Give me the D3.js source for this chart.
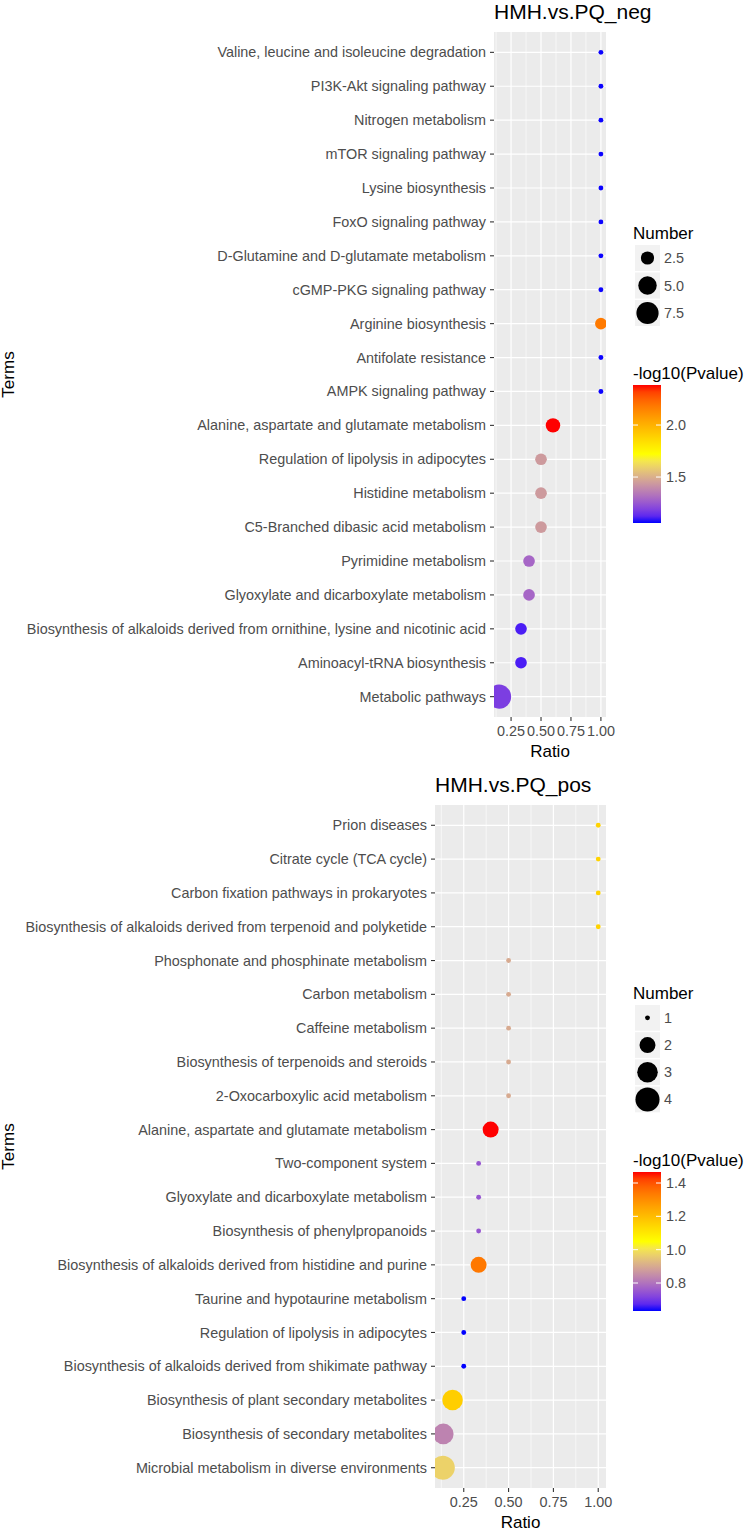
<!DOCTYPE html>
<html>
<head>
<meta charset="utf-8">
<script src="https://cdn.jsdelivr.net/npm/d3@7"></script>
<style>
  html, body { margin: 0; padding: 0; background: #ffffff; }
  svg { display: block; font-family: "Liberation Sans", Arial, Helvetica, sans-serif; }
</style>
</head>
<body>
<svg id="chart" width="750" height="1531"></svg>
<script>
// ---------- DATA ----------
const negTitle = "HMH.vs.PQ_neg";
const negTerms = [
  "Valine, leucine and isoleucine degradation",
  "PI3K-Akt signaling pathway",
  "Nitrogen metabolism",
  "mTOR signaling pathway",
  "Lysine biosynthesis",
  "FoxO signaling pathway",
  "D-Glutamine and D-glutamate metabolism",
  "cGMP-PKG signaling pathway",
  "Arginine biosynthesis",
  "Antifolate resistance",
  "AMPK signaling pathway",
  "Alanine, aspartate and glutamate metabolism",
  "Regulation of lipolysis in adipocytes",
  "Histidine metabolism",
  "C5-Branched dibasic acid metabolism",
  "Pyrimidine metabolism",
  "Glyoxylate and dicarboxylate metabolism",
  "Biosynthesis of alkaloids derived from ornithine, lysine and nicotinic acid",
  "Aminoacyl-tRNA biosynthesis",
  "Metabolic pathways"
];
const negRatio  = [1, 1, 1, 1, 1, 1, 1, 1, 1, 1, 1, 0.6, 0.5, 0.5, 0.5, 0.4, 0.4, 0.333, 0.333, 0.15];
const negNumber = [1, 1, 1, 1, 1, 1, 1, 1, 2, 1, 1, 3, 2, 2, 2, 2, 2, 2, 2, 9];
const negLogP   = [1.06, 1.06, 1.06, 1.06, 1.06, 1.06, 1.06, 1.06, 2.18, 1.06, 1.06, 2.385, 1.44, 1.44, 1.44, 1.29, 1.29, 1.1, 1.1, 1.18];
const negSizeBreaks  = [2.5, 5.0, 7.5];
const negSizeLabels  = ["2.5", "5.0", "7.5"];
const negColorBreaks = [1.5, 2.0];
const negColorLabels = ["1.5", "2.0"];
const negColorLimits = [1.058, 2.385];

const posTitle = "HMH.vs.PQ_pos";
const posTerms = [
  "Prion diseases",
  "Citrate cycle (TCA cycle)",
  "Carbon fixation pathways in prokaryotes",
  "Biosynthesis of alkaloids derived from terpenoid and polyketide",
  "Phosphonate and phosphinate metabolism",
  "Carbon metabolism",
  "Caffeine metabolism",
  "Biosynthesis of terpenoids and steroids",
  "2-Oxocarboxylic acid metabolism",
  "Alanine, aspartate and glutamate metabolism",
  "Two-component system",
  "Glyoxylate and dicarboxylate metabolism",
  "Biosynthesis of phenylpropanoids",
  "Biosynthesis of alkaloids derived from histidine and purine",
  "Taurine and hypotaurine metabolism",
  "Regulation of lipolysis in adipocytes",
  "Biosynthesis of alkaloids derived from shikimate pathway",
  "Biosynthesis of plant secondary metabolites",
  "Biosynthesis of secondary metabolites",
  "Microbial metabolism in diverse environments"
];
const posRatio  = [1, 1, 1, 1, 0.5, 0.5, 0.5, 0.5, 0.5, 0.4, 0.333, 0.333, 0.333, 0.333, 0.25, 0.25, 0.25, 0.1875, 0.136, 0.133];
const posNumber = [1, 1, 1, 1, 1, 1, 1, 1, 1, 2, 1, 1, 1, 2, 1, 1, 1, 3, 3, 4];
const posLogP   = [1.15, 1.15, 1.15, 1.15, 0.9, 0.9, 0.9, 0.9, 0.9, 1.466, 0.75, 0.75, 0.75, 1.34, 0.632, 0.632, 0.632, 1.16, 0.83, 0.97];
const posSizeBreaks  = [1, 2, 3, 4];
const posSizeLabels  = ["1", "2", "3", "4"];
const posColorBreaks = [0.8, 1.0, 1.2, 1.4];
const posColorLabels = ["0.8", "1.0", "1.2", "1.4"];
const posColorLimits = [0.632, 1.466];

const xBreaks = [0.25, 0.5, 0.75, 1.0];
const xLabels = ["0.25", "0.50", "0.75", "1.00"];
const xMinor  = [0.125, 0.375, 0.625, 0.875];

// ---------- DRAW ----------
const svg = d3.select("#chart");
const TEXT_GREY = "#4d4d4d";
const AXIS_FS = 14.4;

function drawPanel(cfg) {
  const { title, terms, ratio, number, logp, sizeBreaks, sizeLabels,
          colorBreaks, colorLabels, colorLimits, box, legend } = cfg;
  const g = svg.append("g");

  // x scale with ggplot-like 5% expansion
  const xmin = d3.min(ratio), xmax = d3.max(ratio);
  const ex = (xmax - xmin) * 0.05;
  const x = d3.scaleLinear().domain([xmin - ex, xmax + ex]).range([box.left, box.right]);
  const y = d3.scalePoint().domain(terms).range([box.top, box.bottom]).padding(0.6);

  // size scale (area)
  const nExt = d3.extent(number);
  const sizeOf = n => 1 + 5 * Math.sqrt((n - nExt[0]) / (nExt[1] - nExt[0]));
  const rad = n => (sizeOf(n) * 3.85 + 1.0) / 2;

  // colour scale
  const cmid = (colorLimits[0] + colorLimits[1]) / 2;
  const color = d3.scaleLinear().domain([colorLimits[0], cmid, colorLimits[1]])
    .range(["#0000ff", "#ffff00", "#ff0000"]).interpolate(d3.interpolateLab).clamp(true);

  // panel background
  g.append("rect").attr("x", box.left).attr("y", box.top)
    .attr("width", box.right - box.left).attr("height", box.bottom - box.top)
    .attr("fill", "#ebebeb");

  // minor grid
  g.selectAll(".minor").data(xMinor).enter().append("line")
    .attr("x1", d => x(d)).attr("x2", d => x(d))
    .attr("y1", box.top).attr("y2", box.bottom)
    .attr("stroke", "#ffffff").attr("stroke-width", 0.6);
  // major grid
  g.selectAll(".vmaj").data(xBreaks).enter().append("line")
    .attr("x1", d => x(d)).attr("x2", d => x(d))
    .attr("y1", box.top).attr("y2", box.bottom)
    .attr("stroke", "#ffffff").attr("stroke-width", 1.2);
  g.selectAll(".hmaj").data(terms).enter().append("line")
    .attr("x1", box.left).attr("x2", box.right)
    .attr("y1", d => y(d)).attr("y2", d => y(d))
    .attr("stroke", "#ffffff").attr("stroke-width", 1.2);

  // points (clipped to panel)
  const clipId = "clip-" + title.replace(/[^a-z]/gi, "");
  svg.append("clipPath").attr("id", clipId).append("rect")
    .attr("x", box.left).attr("y", box.top)
    .attr("width", box.right - box.left).attr("height", box.bottom - box.top);
  const pts = terms.map((t, i) => ({ t, r: ratio[i], n: number[i], p: logp[i] }));
  g.append("g").attr("clip-path", `url(#${clipId})`)
    .selectAll("circle").data(pts).enter().append("circle")
    .attr("cx", d => x(d.r)).attr("cy", d => y(d.t))
    .attr("r", d => rad(d.n)).attr("fill", d => color(d.p));

  // y axis ticks & labels
  const yAx = g.append("g");
  yAx.selectAll("line").data(terms).enter().append("line")
    .attr("x1", box.left - 4).attr("x2", box.left)
    .attr("y1", d => y(d)).attr("y2", d => y(d))
    .attr("stroke", "#333333").attr("stroke-width", 1.1);
  yAx.selectAll("text").data(terms).enter().append("text")
    .attr("x", box.left - 8).attr("y", d => y(d)).attr("dy", "0.35em")
    .attr("text-anchor", "end").attr("font-size", AXIS_FS).attr("fill", TEXT_GREY)
    .text(d => d);

  // x axis ticks & labels
  const xAx = g.append("g");
  xAx.selectAll("line").data(xBreaks).enter().append("line")
    .attr("x1", d => x(d)).attr("x2", d => x(d))
    .attr("y1", box.bottom).attr("y2", box.bottom + 4)
    .attr("stroke", "#333333").attr("stroke-width", 1.1);
  xAx.selectAll("text").data(xBreaks).enter().append("text")
    .attr("x", d => x(d)).attr("y", box.bottom + 19)
    .attr("text-anchor", "middle").attr("font-size", AXIS_FS).attr("fill", TEXT_GREY)
    .text((d, i) => xLabels[i]);

  // axis titles
  g.append("text").attr("x", (box.left + box.right) / 2).attr("y", box.bottom + 40)
    .attr("text-anchor", "middle").attr("font-size", 17).attr("fill", "#000")
    .text("Ratio");
  g.append("text")
    .attr("transform", `translate(14,${(box.top + box.bottom) / 2}) rotate(-90)`)
    .attr("text-anchor", "middle").attr("font-size", 17).attr("fill", "#000")
    .text("Terms");

  // plot title
  g.append("text").attr("x", box.left).attr("y", box.top - 13)
    .attr("font-size", 21).attr("fill", "#000").text(title);

  // ---- size legend ----
  const L = legend;
  const lg = g.append("g");
  lg.append("text").attr("x", L.x).attr("y", L.sizeTitleY)
    .attr("font-size", 17).attr("fill", "#000").text("Number");
  sizeBreaks.forEach((b, i) => {
    const top = L.sizeKeyTop + i * L.keyStep;
    lg.append("rect").attr("x", L.x + 2).attr("y", top)
      .attr("width", 25).attr("height", L.keyStep - 1.5).attr("fill", "#f2f2f2");
    lg.append("circle").attr("cx", L.x + 14.5).attr("cy", top + (L.keyStep - 1.5) / 2)
      .attr("r", rad(b)).attr("fill", "#000");
    lg.append("text").attr("x", L.x + 31).attr("y", top + (L.keyStep - 1.5) / 2).attr("dy", "0.35em")
      .attr("font-size", AXIS_FS).attr("fill", TEXT_GREY).text(sizeLabels[i]);
  });

  // ---- colour legend ----
  lg.append("text").attr("x", L.x).attr("y", L.colTitleY)
    .attr("font-size", 17).attr("fill", "#000").text("-log10(Pvalue)");
  const barX = L.x, barW = 28, barTop = L.barTop, barBot = L.barBottom;
  const cy = d3.scaleLinear().domain(colorLimits).range([barBot, barTop]);
  const gradId = "grad-" + title.replace(/[^a-z]/gi, "");
  const grad = svg.append("defs").append("linearGradient").attr("id", gradId)
    .attr("x1", 0).attr("y1", 1).attr("x2", 0).attr("y2", 0);
  d3.range(0, 1.0001, 0.05).forEach(t => {
    grad.append("stop").attr("offset", t)
      .attr("stop-color", color(colorLimits[0] + t * (colorLimits[1] - colorLimits[0])));
  });
  lg.append("rect").attr("x", barX).attr("y", barTop).attr("width", barW)
    .attr("height", barBot - barTop).attr("fill", `url(#${gradId})`);
  colorBreaks.forEach((b, i) => {
    const yy = cy(b);
    lg.append("line").attr("x1", barX).attr("x2", barX + 5).attr("y1", yy).attr("y2", yy)
      .attr("stroke", "#ffffff").attr("stroke-width", 1);
    lg.append("line").attr("x1", barX + barW - 5).attr("x2", barX + barW).attr("y1", yy).attr("y2", yy)
      .attr("stroke", "#ffffff").attr("stroke-width", 1);
    lg.append("text").attr("x", barX + barW + 5).attr("y", yy).attr("dy", "0.35em")
      .attr("font-size", AXIS_FS).attr("fill", TEXT_GREY).text(colorLabels[i]);
  });
}

drawPanel({
  title: negTitle, terms: negTerms, ratio: negRatio, number: negNumber, logp: negLogP,
  sizeBreaks: negSizeBreaks, sizeLabels: negSizeLabels,
  colorBreaks: negColorBreaks, colorLabels: negColorLabels, colorLimits: negColorLimits,
  box: { left: 494, right: 606, top: 32, bottom: 717 },
  legend: { x: 633, sizeTitleY: 239, sizeKeyTop: 245, keyStep: 27.5,
            colTitleY: 379, barTop: 385, barBottom: 523 }
});

drawPanel({
  title: posTitle, terms: posTerms, ratio: posRatio, number: posNumber, logp: posLogP,
  sizeBreaks: posSizeBreaks, sizeLabels: posSizeLabels,
  colorBreaks: posColorBreaks, colorLabels: posColorLabels, colorLimits: posColorLimits,
  box: { left: 435, right: 606, top: 805, bottom: 1488 },
  legend: { x: 633, sizeTitleY: 999, sizeKeyTop: 1005, keyStep: 27.2,
            colTitleY: 1166, barTop: 1172, barBottom: 1311 }
});
</script>
</body>
</html>
